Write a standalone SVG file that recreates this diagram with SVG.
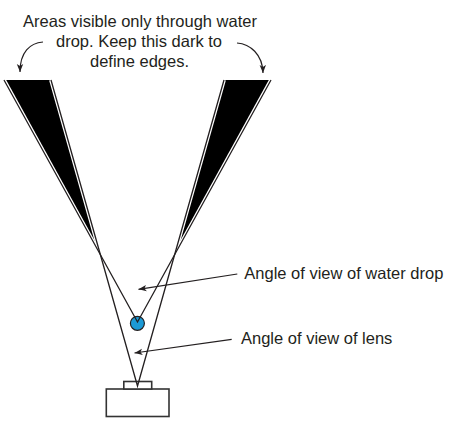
<svg xmlns="http://www.w3.org/2000/svg" width="450" height="431" viewBox="0 0 450 431">
  <style>
    .txt { font-family: "Liberation Sans", Arial, sans-serif; font-size: 16.5px; fill: #231f20; }
    .ray { stroke: #231f20; stroke-width: 1.3; fill: none; }
    .gap { stroke: #ffffff; stroke-width: 3.8; fill: none; }
    .wedge { fill: #000000; stroke: none; }
    .arrow { stroke: #231f20; stroke-width: 1.2; fill: none; marker-end: url(#ah); }
    .cam { fill: #ffffff; stroke: #333333; stroke-width: 1.6; }
  </style>
  <defs>
    <marker id="ah" markerUnits="userSpaceOnUse" markerWidth="10" markerHeight="8" refX="8" refY="3.5" orient="auto">
      <path d="M0,0.3 L8,3.5 L0,6.7 L2,3.5 Z" fill="#231f20"/>
    </marker>
  </defs>
  <rect width="450" height="431" fill="#ffffff"/>

  <g id="wedge-left">
    <polygon class="wedge" points="4,80 51,80 100.4,254.8"/>
    <line class="gap" x1="4" y1="80" x2="100.4" y2="254.8"/>
    <line class="gap" x1="51" y1="80" x2="100.4" y2="254.8"/>
  </g>
  <g id="wedge-right">
    <polygon class="wedge" points="271,80 224,80 174.6,254.8"/>
    <line class="gap" x1="271" y1="80" x2="174.6" y2="254.8"/>
    <line class="gap" x1="224" y1="80" x2="174.6" y2="254.8"/>
  </g>

  <g id="water-drop">
    <circle cx="137.4" cy="323.3" r="7" fill="#1c9ad6" stroke="#231f20" stroke-width="1.2"/>
  </g>

  <g id="camera">
    <rect class="cam" x="106.3" y="389" width="62.7" height="27.5"/>
    <rect class="cam" x="123.8" y="381.5" width="27.9" height="7.5"/>
  </g>

  <g id="connectors">
    <polyline class="ray" points="4,80 137.5,322 271,80"/>
    <polyline class="ray" points="51,80 137.5,386 224,80"/>
    <path class="arrow" d="M43,42 C30,43 20,52 20,72"/>
    <path class="arrow" d="M237,43 C250,44 262.5,54 263,73"/>
    <line class="arrow" x1="237.3" y1="274" x2="138.5" y2="289.3"/>
    <line class="arrow" x1="231.7" y1="339.3" x2="134.5" y2="353"/>
  </g>

  <g id="label-top">
    <text class="txt" x="140" y="27.3" text-anchor="middle">Areas visible only through water</text>
    <text class="txt" x="139" y="47.3" text-anchor="middle">drop. Keep this dark to</text>
    <text class="txt" x="139.5" y="66.8" text-anchor="middle">define edges.</text>
  </g>
  <g id="label-drop">
    <text class="txt" x="244.3" y="279">Angle of view of water drop</text>
  </g>
  <g id="label-lens">
    <text class="txt" x="241" y="343.8">Angle of view of lens</text>
  </g>
</svg>
